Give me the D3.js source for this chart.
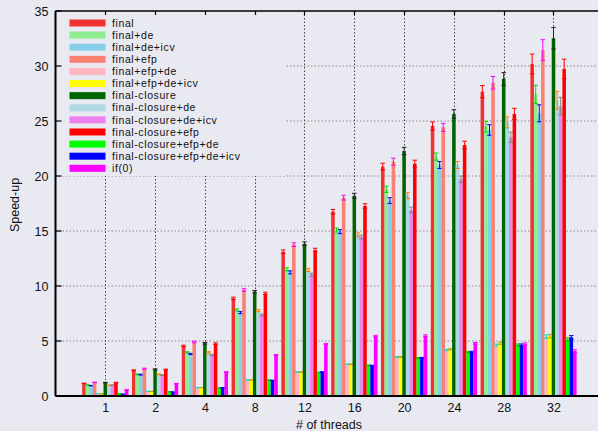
<!DOCTYPE html>
<html>
<head>
<meta charset="utf-8">
<script src="https://cdn.jsdelivr.net/npm/d3@7"></script>
<style>
  html, body { margin: 0; padding: 0; background: #e9e9f1; }
  svg { display: block; }
  text { font-family: "Liberation Sans", Arial, sans-serif; fill: #111; }
</style>
</head>
<body>
<svg id="chart" width="598" height="431"></svg>
<script>
// Thread counts on the x axis
const threads = ["1", "2", "4", "8", "12", "16", "20", "24", "28", "32"];

const seriesNames = [
  "final", "final+de", "final+de+icv", "final+efp", "final+efp+de",
  "final+efp+de+icv", "final-closure", "final-closure+de",
  "final-closure+de+icv", "final-closure+efp", "final-closure+efp+de",
  "final-closure+efp+de+icv", "if(0)"
];

const fillColors = [
  "#f03232", "#90ee90", "#87ceeb", "#fa8072", "#ffb6c1", "#ffff00",
  "#006400", "#add8e6", "#ee82ee", "#ff0000", "#00ff00", "#0000ff", "#ff00ff"
];

const errColors = [
  "#ff0000", "#00dd00", "#0000ff", "#ff00ff", "#00e0e0", "#c8a000",
  "#222222", "#ff8000", "#888888", "#ff0000", "#00cc00", "#0000ff", "#ff00ff"
];

// Speed-up per series, one value per thread count
const final          = [1.15, 2.33, 4.55, 8.88, 13.12, 16.76, 20.85, 24.55, 27.67, 30.18];
const finalDe        = [1.00, 1.97, 3.97, 7.82, 11.52, 15.09, 18.79, 21.76, 24.48, 27.42];
const finalDeIcv     = [0.94, 1.94, 3.82, 7.58, 11.24, 14.94, 17.76, 21.00, 24.18, 25.70];
const finalEfp       = [1.24, 2.48, 4.91, 9.64, 13.76, 18.03, 21.30, 24.42, 28.48, 31.45];
const finalEfpDe     = [0.22, 0.42, 0.76, 1.45, 2.18, 2.88, 3.55, 4.18, 4.64, 5.39];
const finalEfpDeIcv  = [0.20, 0.42, 0.76, 1.45, 2.18, 2.88, 3.55, 4.24, 4.79, 5.45];
const closure        = [1.22, 2.42, 4.79, 9.48, 13.85, 18.21, 22.27, 25.64, 28.82, 32.52];
const closureDe      = [0.97, 1.97, 3.97, 7.76, 11.45, 14.65, 18.21, 21.00, 24.88, 26.90];
const closureDeIcv   = [1.00, 1.90, 3.73, 7.36, 11.03, 14.45, 16.91, 19.70, 23.52, 26.36];
const closureEfp     = [1.22, 2.39, 4.76, 9.33, 13.27, 17.27, 21.12, 22.82, 25.64, 29.73];
const closureEfpDe   = [0.22, 0.39, 0.73, 1.45, 2.15, 2.79, 3.45, 4.00, 4.64, 5.15];
const closureEfpDeIcv= [0.16, 0.36, 0.76, 1.42, 2.18, 2.76, 3.45, 4.00, 4.64, 5.33];
const ifZero         = [0.56, 1.12, 2.18, 3.73, 4.73, 5.45, 5.48, 4.79, 4.73, 4.09];

// Relative error (percent of the bar value) per thread count
const errPct = [2, 2, 1.5, 1.2, 1.2, 1.2, 1.5, 1.5, 2, 3];

// Y axis ticks
const yTicks = [0, 5, 10, 15, 20, 25, 30, 35];

const seriesValues = [
  final, finalDe, finalDeIcv, finalEfp, finalEfpDe, finalEfpDeIcv,
  closure, closureDe, closureDeIcv, closureEfp, closureEfpDe,
  closureEfpDeIcv, ifZero
];

const svg = d3.select("#chart");
const W = 598, H = 431;
const plotLeft = 55.5, plotTop = 11, plotBottom = 396;

// Group index scale: -1 .. 10, the right frame lies past the page edge
const x = d3.scaleLinear().domain([-1, 10]).range([plotLeft, 603.3]);
const groupStep = x(1) - x(0);
const barW = groupStep / 14;
const inner = d3.scaleBand()
  .domain(seriesNames)
  .range([-6.5 * barW, 6.5 * barW])
  .padding(0);
const y = d3.scaleLinear().domain([0, 35]).range([plotBottom, plotTop]);

const plot = svg.append("g");

// Horizontal grid
plot.append("g")
  .selectAll("line")
  .data(yTicks.filter(d => d > 0 && d < 35))
  .join("line")
  .attr("x1", plotLeft).attr("x2", W)
  .attr("y1", d => y(d)).attr("y2", d => y(d))
  .attr("stroke", "#8a8a8a")
  .attr("stroke-width", 1)
  .attr("stroke-dasharray", "1.5,2");

// Vertical grid
plot.append("g")
  .selectAll("line")
  .data(threads)
  .join("line")
  .attr("x1", (d, i) => Math.round(x(i)) + 0.5)
  .attr("x2", (d, i) => Math.round(x(i)) + 0.5)
  .attr("y1", plotTop).attr("y2", plotBottom)
  .attr("stroke", "#444")
  .attr("stroke-width", 1)
  .attr("stroke-dasharray", "1.5,2");

// Legend background hides the grid behind it
svg.append("rect")
  .attr("x", plotLeft + 1).attr("y", plotTop + 1)
  .attr("width", 285 - plotLeft).attr("height", 175 - plotTop)
  .attr("fill", "#e9e9f1");

// Bars
const groups = plot.append("g")
  .selectAll("g")
  .data(seriesNames.map((name, s) => ({ name, s, vals: seriesValues[s] })))
  .join("g");

const cells = d => d.vals.map((v, i) => ({
  v, i, s: d.s, name: d.name, e: v * errPct[i] / 100
}));

groups.selectAll("rect")
  .data(cells)
  .join("rect")
  .attr("x", d => x(d.i) + inner(d.name))
  .attr("width", inner.bandwidth())
  .attr("y", d => y(d.v))
  .attr("height", d => plotBottom - y(d.v))
  .attr("fill", d => fillColors[d.s]);

// Error bars
const eb = groups.selectAll("g.err")
  .data(cells)
  .join("g").attr("class", "err")
  .attr("stroke", d => errColors[d.s])
  .attr("stroke-width", 1);
eb.append("line")
  .attr("x1", d => x(d.i) + inner(d.name) + barW / 2)
  .attr("x2", d => x(d.i) + inner(d.name) + barW / 2)
  .attr("y1", d => y(d.v + d.e))
  .attr("y2", d => y(d.v - d.e));
eb.append("line")
  .attr("x1", d => x(d.i) + inner(d.name) - 0.5)
  .attr("x2", d => x(d.i) + inner(d.name) + barW + 0.5)
  .attr("y1", d => y(d.v + d.e))
  .attr("y2", d => y(d.v + d.e));
eb.append("line")
  .attr("x1", d => x(d.i) + inner(d.name) - 0.5)
  .attr("x2", d => x(d.i) + inner(d.name) + barW + 0.5)
  .attr("y1", d => y(d.v - d.e))
  .attr("y2", d => y(d.v - d.e));

// Frame: left axis, bottom axis, top border
const yAxis = d3.axisLeft(y).tickValues(yTicks).tickSize(0).tickPadding(7);
const yg = svg.append("g").attr("transform", `translate(${plotLeft},0)`).call(yAxis);
yg.select(".domain").remove();
yg.selectAll("text").attr("font-size", 12.5).attr("font-family", "Liberation Sans, Arial, sans-serif");

svg.append("g").selectAll("line")
  .data(yTicks)
  .join("line")
  .attr("x1", plotLeft).attr("x2", plotLeft + 6)
  .attr("y1", d => y(d)).attr("y2", d => y(d))
  .attr("stroke", "#000").attr("stroke-width", 1.2);

const xAxis = d3.axisBottom(x)
  .tickValues(d3.range(threads.length))
  .tickFormat(i => threads[i])
  .tickSize(0).tickPadding(7);
const xg = svg.append("g").attr("transform", `translate(0,${plotBottom})`).call(xAxis);
xg.select(".domain").remove();
xg.selectAll("text").attr("font-size", 12.5).attr("font-family", "Liberation Sans, Arial, sans-serif");

// top ticks
svg.append("g").selectAll("line")
  .data(threads)
  .join("line")
  .attr("x1", (d, i) => Math.round(x(i)) + 0.5)
  .attr("x2", (d, i) => Math.round(x(i)) + 0.5)
  .attr("y1", plotTop).attr("y2", plotTop + 4)
  .attr("stroke", "#000").attr("stroke-width", 1.2);

svg.append("line").attr("x1", plotLeft).attr("x2", W).attr("y1", plotTop).attr("y2", plotTop)
  .attr("stroke", "#000").attr("stroke-width", 1.5);
svg.append("line").attr("x1", plotLeft).attr("x2", W).attr("y1", plotBottom).attr("y2", plotBottom)
  .attr("stroke", "#000").attr("stroke-width", 2);
svg.append("line").attr("x1", plotLeft).attr("x2", plotLeft).attr("y1", plotTop).attr("y2", plotBottom)
  .attr("stroke", "#000").attr("stroke-width", 2);

// Legend
const legendRow = d3.scaleLinear().domain([0, 12]).range([23, 168.3]);
const leg = svg.append("g").selectAll("g")
  .data(seriesNames)
  .join("g")
  .attr("transform", (d, i) => `translate(0,${legendRow(i)})`);
leg.append("rect")
  .attr("x", 69.5).attr("y", -3.5)
  .attr("width", 36).attr("height", 7)
  .attr("fill", (d, i) => fillColors[i]);
leg.append("text")
  .attr("x", 112).attr("y", 0)
  .attr("dy", "0.35em")
  .attr("font-size", 10.5)
  .attr("letter-spacing", 0.6)
  .text(d => d);

// Axis titles
svg.append("text")
  .attr("transform", "translate(15,205) rotate(-90)")
  .attr("text-anchor", "middle")
  .attr("dy", "0.35em")
  .attr("font-size", 12.5)
  .text("Speed-up");
svg.append("text")
  .attr("x", 329).attr("y", 425)
  .attr("text-anchor", "middle")
  .attr("dy", "0.35em")
  .attr("font-size", 12.5)
  .text("# of threads");
</script>
</body>
</html>
